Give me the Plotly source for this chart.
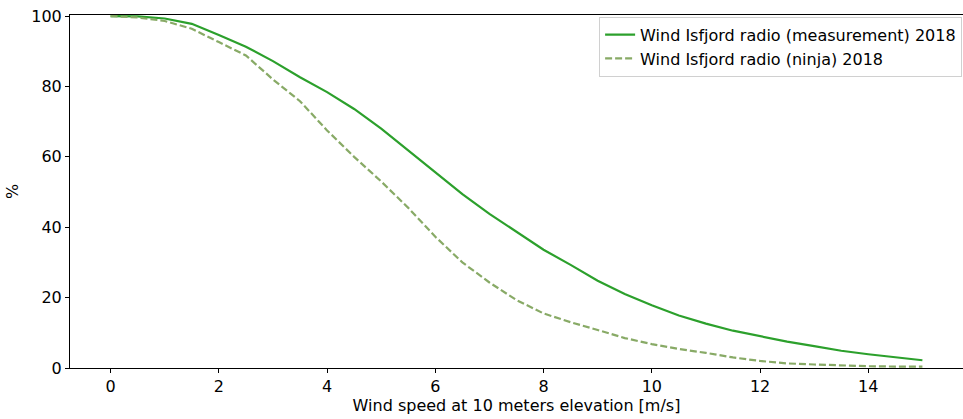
import plotly.graph_objects as go

# Wind speed bins [m/s]
wind_speed = [0.0, 0.5, 1.0, 1.5, 2.0, 2.5, 3.0, 3.5, 4.0, 4.5, 5.0, 5.5, 6.0, 6.5, 7.0, 7.5,
              8.0, 8.5, 9.0, 9.5, 10.0, 10.5, 11.0, 11.5, 12.0, 12.5, 13.0, 13.5, 14.0, 14.5, 15.0]

# Share of time with wind speed above each bin [%]
measurement_2018 = [100.0, 99.9, 99.3, 97.8, 94.6, 91.3, 87.2, 82.6, 78.4, 73.6, 68.0, 61.8,
                    55.6, 49.4, 43.8, 38.8, 33.6, 29.3, 24.8, 21.0, 17.8, 14.9, 12.6, 10.6,
                    9.0, 7.5, 6.2, 4.9, 3.9, 3.0, 2.2]
ninja_2018 = [100.0, 99.6, 98.6, 96.4, 92.6, 88.8, 82.0, 75.8, 67.5, 60.0, 53.0, 45.5,
              37.3, 30.0, 24.3, 19.3, 15.5, 13.0, 10.8, 8.5, 6.8, 5.4, 4.3, 3.0,
              2.0, 1.3, 1.0, 0.7, 0.5, 0.4, 0.4]

x_ticks = [0, 2, 4, 6, 8, 10, 12, 14]
y_ticks = [0, 20, 40, 60, 80, 100]

FONT = "DejaVu Sans"
SIZE = 16

fig = go.Figure()
fig.add_trace(go.Scatter(
    x=wind_speed, y=measurement_2018, mode="lines",
    name="Wind Isfjord radio (measurement) 2018",
    line=dict(color="#2ca02c", width=2.2),
))
fig.add_trace(go.Scatter(
    x=wind_speed, y=ninja_2018, mode="lines",
    name="Wind Isfjord radio (ninja) 2018",
    line=dict(color="#88aa66", width=2.2, dash="7px,3px"),
))

fig.update_layout(
    width=963, height=419,
    margin=dict(l=70, r=0, t=15, b=51),
    paper_bgcolor="white", plot_bgcolor="white",
    font=dict(family=FONT, size=SIZE, color="black"),
    showlegend=True,
    legend=dict(
        x=0.999, y=0.995, xanchor="right", yanchor="top",
        bgcolor="rgba(255,255,255,0.8)", bordercolor="#d0d0d0", borderwidth=1,
        font=dict(family=FONT, size=SIZE, color="black"),
        itemwidth=30, tracegroupgap=0,
    ),
)

fig.update_xaxes(
    range=[-0.75, 15.75], tickvals=x_ticks, ticktext=[str(t) for t in x_ticks],
    showgrid=False, zeroline=False,
    showline=True, linecolor="black", linewidth=1, mirror=True,
    ticks="outside", ticklen=4, tickcolor="black",
    title=dict(text="Wind speed at 10 meters elevation [m/s]", standoff=4,
               font=dict(family=FONT, size=SIZE)),
)
fig.update_yaxes(
    range=[0, 100.3], tickvals=y_ticks, ticktext=[str(t) for t in y_ticks],
    showgrid=False, zeroline=False,
    showline=True, linecolor="black", linewidth=1,
    ticks="outside", ticklen=4, tickcolor="black",
    title=dict(text="%", standoff=8, font=dict(family=FONT, size=SIZE)),
)

fig.write_html("out.html")
